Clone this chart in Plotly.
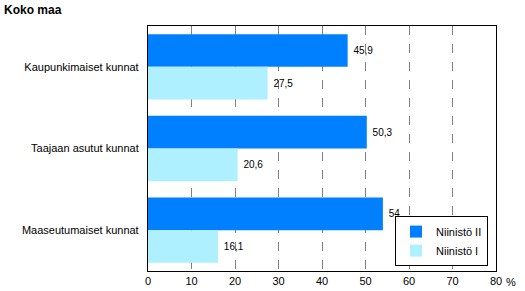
import plotly.graph_objects as go

categories = ["Kaupunkimaiset kunnat", "Taajaan asutut kunnat", "Maaseutumaiset kunnat"]
niinisto_ii = [45.9, 50.3, 54]
niinisto_i = [27.5, 20.6, 16.1]
tick_vals = [0, 10, 20, 30, 40, 50, 60, 70, 80]

font = "Liberation Sans, Arial, sans-serif"

def fmt(vals):
    return ["\u00a0" + f"{v:g}".replace(".", ",") for v in vals]

fig = go.Figure()
fig.add_trace(go.Bar(
    y=categories, x=niinisto_ii, orientation="h", name="Niinistö II",
    marker=dict(color="#0080FF", line=dict(width=0)),
    text=fmt(niinisto_ii),
    textposition="outside", cliponaxis=False,
    textfont=dict(size=10, color="black", family=font),
))
fig.add_trace(go.Bar(
    y=categories, x=niinisto_i, orientation="h", name="Niinistö I",
    marker=dict(color="#AEF0FF", line=dict(width=0)),
    text=fmt(niinisto_i),
    textposition="outside", cliponaxis=False,
    textfont=dict(size=10, color="black", family=font),
))

fig.update_layout(
    width=525, height=291,
    margin=dict(l=148, r=29, t=26, b=20),
    paper_bgcolor="white", plot_bgcolor="white",
    barmode="group", bargap=0.2, bargroupgap=0,
    font=dict(family=font, size=11, color="black"),
    showlegend=True,
    legend=dict(
        x=0.977, y=0.02, xanchor="right", yanchor="bottom",
        traceorder="normal", bgcolor="white",
        bordercolor="black", borderwidth=1,
        font=dict(size=11, family=font),
        itemwidth=30, tracegroupgap=0,
    ),
    xaxis=dict(
        range=[0, 80], tickvals=tick_vals,
        showgrid=True, gridcolor="#808080", griddash="dash", gridwidth=1,
        showline=True, linecolor="black", linewidth=1, mirror=True,
        ticks="", zeroline=False, automargin=False,
        tickfont=dict(size=11, family=font),
    ),
    yaxis=dict(
        autorange="reversed",
        showline=True, linecolor="black", linewidth=1, mirror=True,
        ticks="", showgrid=False, automargin=False,
        tickfont=dict(size=11, family=font),
        ticksuffix="  ",
    ),
    annotations=[
        dict(text="<b>Koko maa</b>", xref="paper", yref="paper",
             x=-148/345, y=1 + 26/245, xanchor="left", yanchor="top",
             showarrow=False, font=dict(size=12, family=font), yshift=-1, xshift=3),
        dict(text="%", xref="paper", yref="paper",
             x=1, y=0, xanchor="left", yanchor="top",
             showarrow=False, font=dict(size=11, family=font), xshift=8, yshift=-3),
    ],
)

fig.write_html("out.html")
